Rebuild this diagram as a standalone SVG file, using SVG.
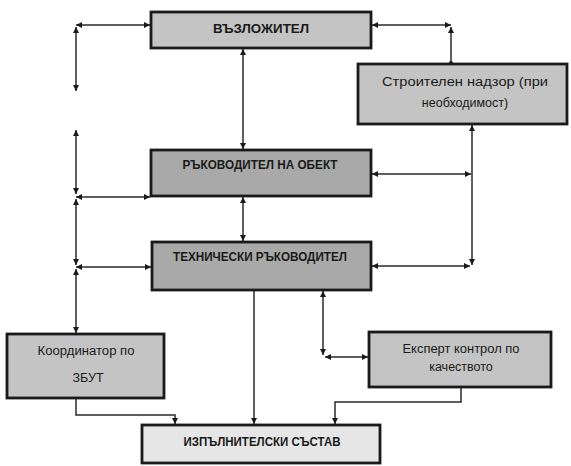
<svg xmlns="http://www.w3.org/2000/svg" width="571" height="466" viewBox="0 0 571 466">
<style>
.box{stroke:#1a1a1a;stroke-width:2.8}
.mid{fill:#c4c4c4}
.dark{fill:#a9a9a9}
.light{fill:#e6e6e6}
.t{font-family:"Liberation Sans",Arial,sans-serif;fill:#1a1a1a;text-anchor:middle}
.b{font-weight:bold;font-size:12px}
.n{font-size:12.5px}
.c{fill:none;stroke:#2a2a2a;stroke-width:1.5}
.ba{marker-start:url(#as);marker-end:url(#ae)}
.ea{marker-end:url(#ae)}
</style>
<defs>
<marker id="ae" viewBox="0 0 10 10" refX="10" refY="5" markerWidth="6" markerHeight="6" markerUnits="userSpaceOnUse" orient="auto"><path d="M0,0L10,5L0,10z" fill="#1a1a1a"/></marker>
<marker id="as" viewBox="0 0 10 10" refX="0" refY="5" markerWidth="6" markerHeight="6" markerUnits="userSpaceOnUse" orient="auto"><path d="M10,0L0,5L10,10z" fill="#1a1a1a"/></marker>
</defs>
<rect width="571" height="466" fill="#ffffff"/>
<g id="connectors">
<line class="c ba" x1="76" y1="25" x2="150" y2="25"/>
<line class="c ba" x1="76" y1="27" x2="76" y2="91"/>
<line class="c ba" x1="76" y1="130" x2="76" y2="194"/>
<line class="c ba" x1="76" y1="197" x2="150" y2="197"/>
<line class="c ba" x1="76" y1="199" x2="76" y2="265"/>
<line class="c ba" x1="76" y1="267" x2="151" y2="267"/>
<line class="c ba" x1="76" y1="269" x2="76" y2="333"/>
<line class="c ba" x1="243" y1="49" x2="243" y2="149"/>
<line class="c ba" x1="243" y1="197" x2="243" y2="241"/>
<line class="c ba" x1="372" y1="25" x2="451" y2="25"/>
<line class="c ea" x1="451" y1="63" x2="451" y2="27"/>
<circle cx="451" cy="63" r="2" fill="#1a1a1a"/>
<line class="c ba" x1="472" y1="125" x2="472" y2="265"/>
<line class="c ba" x1="372" y1="174" x2="471" y2="174"/>
<line class="c ba" x1="372" y1="266" x2="470" y2="266"/>
<line class="c ba" x1="323" y1="291" x2="323" y2="355"/>
<line class="c ba" x1="325" y1="357" x2="368" y2="357"/>
<line class="c ea" x1="254" y1="291" x2="254" y2="424"/>
<polyline class="c ea" points="76,399 76,415 175,415 175,424"/>
<polyline class="c ea" points="461,388 461,402 335,402 335,424"/>
</g>
<g id="n1"><rect class="box mid" x="151" y="12" width="220" height="36"/><text class="t b" x="261" y="33" textLength="96" lengthAdjust="spacingAndGlyphs">ВЪЗЛОЖИТЕЛ</text></g>
<g id="n2"><rect class="box mid" x="358" y="64" width="209" height="60"/><text class="t n" x="465" y="86" textLength="166" lengthAdjust="spacingAndGlyphs">Строителен надзор (при</text><text class="t n" x="465" y="107">необходимост)</text></g>
<g id="n3"><rect class="box dark" x="151" y="150" width="220" height="46"/><text class="t b" x="260" y="169" textLength="155" lengthAdjust="spacingAndGlyphs">РЪКОВОДИТЕЛ НА ОБЕКТ</text></g>
<g id="n4"><rect class="box dark" x="152" y="242" width="219" height="48"/><text class="t b" x="260" y="261" textLength="174" lengthAdjust="spacingAndGlyphs">ТЕХНИЧЕСКИ РЪКОВОДИТЕЛ</text></g>
<g id="n5"><rect class="box mid" x="7" y="334" width="157" height="64"/><text class="t n" x="86" y="355" textLength="97" lengthAdjust="spacingAndGlyphs">Координатор по</text><text class="t n" x="88" y="382">ЗБУТ</text></g>
<g id="n6"><rect class="box mid" x="369" y="332" width="182" height="55"/><text class="t n" x="461" y="353" textLength="117" lengthAdjust="spacingAndGlyphs">Експерт контрол по</text><text class="t n" x="461" y="371">качеството</text></g>
<g id="n7"><rect class="box light" x="142" y="425" width="238" height="38"/><text class="t b" x="262" y="446" textLength="157" lengthAdjust="spacingAndGlyphs">ИЗПЪЛНИТЕЛСКИ СЪСТАВ</text></g>
</svg>
